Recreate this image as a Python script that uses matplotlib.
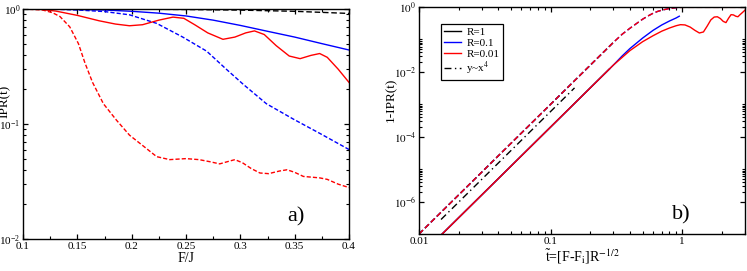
import matplotlib
matplotlib.use("Agg")
import matplotlib.pyplot as plt
from matplotlib.ticker import FixedLocator, FixedFormatter, LogLocator, NullFormatter, MultipleLocator, FuncFormatter
import numpy as np

plt.rcParams['font.family'] = ['Liberation Serif', 'DejaVu Serif']
plt.rcParams['mathtext.fontset'] = 'stix'

# ---------------- panel a) data ----------------
a_black_dash_F = [0.10, 0.15, 0.20, 0.25, 0.30, 0.35, 0.40]
a_black_dash_I = [1.0, 1.0, 0.997, 0.99, 0.978, 0.955, 0.915]

a_blue_solid_F = [0.10, 0.125, 0.15, 0.175, 0.20, 0.225, 0.25, 0.275, 0.30, 0.325, 0.35, 0.375, 0.40]
a_blue_solid_I = [1.0, 0.998, 0.99, 0.98, 0.955, 0.92, 0.87, 0.80, 0.72, 0.64, 0.57, 0.50, 0.44]

a_red_solid_F = [0.10, 0.115, 0.13, 0.15, 0.17, 0.185, 0.198, 0.21, 0.225, 0.238, 0.248, 0.258,
                 0.27, 0.284, 0.295, 0.305, 0.313, 0.322, 0.333, 0.345, 0.355, 0.365, 0.373,
                 0.38, 0.39, 0.40]
a_red_solid_I = [1.0, 0.995, 0.96, 0.88, 0.79, 0.74, 0.715, 0.73, 0.80, 0.85, 0.83, 0.73,
                 0.62, 0.545, 0.57, 0.62, 0.645, 0.60, 0.48, 0.39, 0.37, 0.395, 0.41,
                 0.38, 0.30, 0.23]

a_blue_dash_F = [0.10, 0.125, 0.15, 0.175, 0.198, 0.223, 0.247, 0.269, 0.287, 0.303, 0.324,
                 0.349, 0.373, 0.40]
a_blue_dash_I = [1.0, 0.998, 0.98, 0.95, 0.89, 0.75, 0.57, 0.43, 0.30, 0.22, 0.15,
                 0.11, 0.083, 0.06]

a_red_dash_F = [0.10, 0.118, 0.127, 0.134, 0.143, 0.151, 0.157, 0.164, 0.174, 0.186, 0.198,
                0.211, 0.223, 0.235, 0.25, 0.262, 0.272, 0.281, 0.288, 0.295, 0.302, 0.31,
                0.318, 0.326, 0.336, 0.343, 0.35, 0.358, 0.373, 0.38, 0.39, 0.40]
a_red_dash_I = [1.0, 0.98, 0.93, 0.86, 0.70, 0.50, 0.34, 0.23, 0.15, 0.108, 0.080,
                0.064, 0.052, 0.049, 0.050, 0.049, 0.047, 0.045, 0.047, 0.049, 0.046, 0.041,
                0.0375, 0.037, 0.039, 0.040, 0.038, 0.035, 0.034, 0.033, 0.030, 0.028]

a_xticks = [0.1, 0.15, 0.2, 0.25, 0.3, 0.35, 0.4]
a_xticklabels = ['0.1', '0.15', '0.2', '0.25', '0.3', '0.35', '0.4']

# ---------------- panel b) data ----------------
b_black_dash_t = [0.01, 0.30]
b_black_dash_y = [1e-7, 0.081]

b_blue_dash_t = [0.01, 0.30, 0.35, 0.40, 0.45, 0.50, 0.55, 0.60, 0.65, 0.70, 0.80, 0.90, 0.95]
b_blue_dash_y = [1e-7, 0.081, 0.145, 0.22, 0.31, 0.42, 0.53, 0.64, 0.73, 0.80, 0.90, 0.955, 0.965]

b_red_dash_t = [0.01, 0.30, 0.35, 0.40, 0.45, 0.50, 0.55, 0.60, 0.65, 0.70, 0.80, 0.90, 1.0, 1.5, 2.0, 3.0]
b_red_dash_y = [1e-7, 0.081, 0.145, 0.22, 0.31, 0.42, 0.53, 0.64, 0.73, 0.80, 0.90, 0.955, 0.975,
                0.975, 0.975, 0.975]

b_black_solid_t = [0.015, 0.28]
b_black_solid_y = [1e-7, 0.0123]

b_blue_solid_t = [0.015, 0.30, 0.35, 0.40, 0.50, 0.60, 0.70, 0.80, 0.90, 0.95]
b_blue_solid_y = [1e-7, 0.0162, 0.031, 0.052, 0.11, 0.19, 0.28, 0.37, 0.46, 0.52]

b_red_solid_t = [0.015, 0.30, 0.35, 0.40, 0.50, 0.60, 0.70, 0.80, 0.90, 0.97, 1.05, 1.15, 1.25,
                 1.35, 1.45, 1.55, 1.65, 1.75, 1.85, 1.95, 2.05, 2.15, 2.25, 2.35, 2.45, 2.55,
                 2.65, 2.75, 2.85, 3.0]
b_red_solid_y = [1e-7, 0.0162, 0.028, 0.045, 0.085, 0.13, 0.18, 0.225, 0.265, 0.285, 0.28, 0.24,
                 0.19, 0.158, 0.17, 0.26, 0.40, 0.49, 0.50, 0.44, 0.36, 0.33, 0.45, 0.58, 0.57,
                 0.52, 0.50, 0.58, 0.66, 0.80]

b_fit_t = [0.0147, 0.152]
b_fit_y = [2.8e-7, 3.2e-3]

legend_labels = ['R=1', 'R=0.1', 'R=0.01', 'y~x$^4$']

RED = '#ff0000'
BLUE = '#0000ff'
LW = 1.0

fig = plt.figure(figsize=(7.47, 2.71), dpi=100)
axA = fig.add_axes([23/747, 32/271, 326/747, 230/271])
axB = fig.add_axes([419/747, 37/271, 326/747, 227/271])

def style_axes(ax):
    for s in ax.spines.values():
        s.set_linewidth(1.0)
    ax.tick_params(which='both', direction='in', top=True, right=True, labelsize=8, pad=2)
    ax.tick_params(which='major', length=3.8, width=0.9)
    ax.tick_params(which='minor', length=2.2, width=0.8)

# ---- panel a ----
axA.plot(a_black_dash_F, a_black_dash_I, color='black', lw=LW, ls=(0, (4, 2)))
axA.plot(a_blue_solid_F, a_blue_solid_I, color=BLUE, lw=LW)
axA.plot(a_blue_dash_F, a_blue_dash_I, color=BLUE, lw=LW, ls=(0, (3, 1.5)))
axA.plot(a_red_solid_F, a_red_solid_I, color=RED, lw=LW)
axA.plot(a_red_dash_F, a_red_dash_I, color=RED, lw=LW, ls=(0, (3, 1.5)))
axA.set_yscale('log')
axA.set_xlim(0.1, 0.4)
axA.set_ylim(1e-2, 1)
axA.xaxis.set_major_locator(FixedLocator(a_xticks))
axA.xaxis.set_major_formatter(FixedFormatter(a_xticklabels))
axA.xaxis.set_minor_locator(MultipleLocator(0.025))
axA.yaxis.set_major_locator(LogLocator(base=10, numticks=10))
axA.yaxis.set_minor_locator(LogLocator(base=10, subs=np.arange(2, 10), numticks=20))
axA.yaxis.set_minor_formatter(NullFormatter())
style_axes(axA)
axA.set_xlabel('F/J', fontsize=10, labelpad=1)
axA.set_ylabel('IPR(t)', fontsize=9.5)
axA.yaxis.set_label_coords(-0.036, 0.6)
axA.text(0.81, 0.095, 'a)', transform=axA.transAxes, fontsize=16, va='center', ha='left')

# ---- panel b ----
axB.plot(b_black_dash_t, b_black_dash_y, color='black', lw=LW, ls=(0, (4, 2)))
axB.plot(b_blue_dash_t, b_blue_dash_y, color=BLUE, lw=LW, ls=(0, (4, 2)))
axB.plot(b_red_dash_t, b_red_dash_y, color=RED, lw=LW, ls=(0, (4, 2)))
hR1, = axB.plot(b_black_solid_t, b_black_solid_y, color='black', lw=LW)
hR01, = axB.plot(b_blue_solid_t, b_blue_solid_y, color=BLUE, lw=LW)
hR001, = axB.plot(b_red_solid_t, b_red_solid_y, color=RED, lw=LW)
hfit, = axB.plot(b_fit_t, b_fit_y, color='black', lw=LW, ls=(0, (5, 2.5, 1, 2.5)))
axB.set_xscale('log')
axB.set_yscale('log')
axB.set_xlim(0.01, 3.0)
axB.set_ylim(1e-7, 1)
axB.xaxis.set_major_locator(FixedLocator([0.01, 0.1, 1]))
axB.xaxis.set_major_formatter(FixedFormatter(['0.01', '0.1', '1']))
axB.xaxis.set_minor_locator(LogLocator(base=10, subs=np.arange(2, 10), numticks=20))
axB.xaxis.set_minor_formatter(NullFormatter())
majors = [1e-6, 1e-4, 1e-2, 1e0]
axB.yaxis.set_major_locator(FixedLocator(majors))
axB.yaxis.set_major_formatter(FuncFormatter(lambda v, p: r'$10^{%d}$' % int(round(np.log10(v)))))
minors = [m * 10.0**k for k in (-8, -6, -4, -2) for m in range(2, 11)]
axB.yaxis.set_minor_locator(FixedLocator(minors))
axB.yaxis.set_minor_formatter(NullFormatter())
style_axes(axB)
axB.set_xlabel(r'$\tilde{\rm t}$=[F-F$_{\rm i}$]R$^{-1/2}$', fontsize=10, labelpad=1)
axB.set_ylabel('1-IPR(t)', fontsize=9.5)
axB.yaxis.set_label_coords(-0.067, 0.59)
axB.text(0.775, 0.085, 'b)', transform=axB.transAxes, fontsize=16, va='center', ha='left')

leg = axB.legend([hR1, hR01, hR001, hfit], legend_labels, loc='upper left',
                 bbox_to_anchor=(0.067, 0.925), borderaxespad=0, fontsize=8,
                 handlelength=1.5, handletextpad=0.5, borderpad=0.3, labelspacing=0.1,
                 fancybox=False, framealpha=1, edgecolor='black')
leg.get_frame().set_linewidth(0.9)

fig.savefig('out.png', dpi=100)
